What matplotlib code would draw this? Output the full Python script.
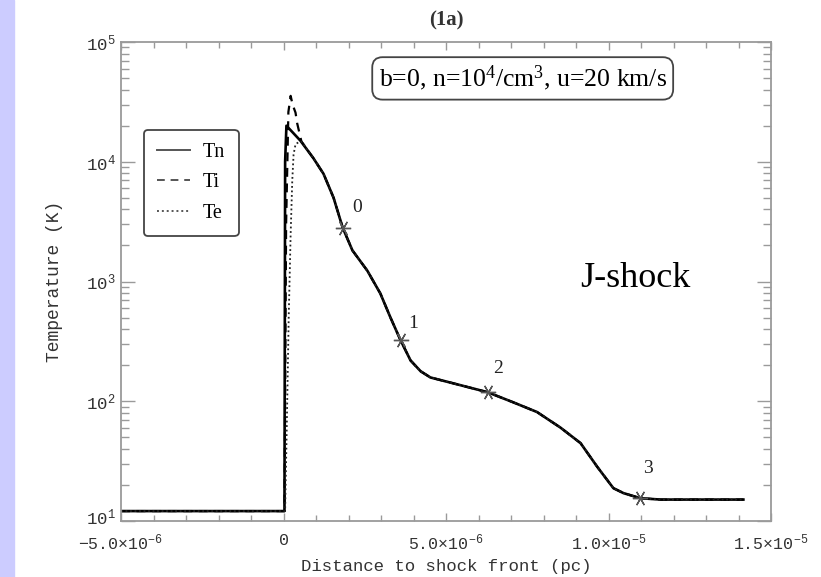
import matplotlib
matplotlib.use('Agg')
import matplotlib.pyplot as plt
from matplotlib.ticker import FixedLocator, MultipleLocator, LogLocator, NullFormatter
from matplotlib.patches import Rectangle
from matplotlib.transforms import ScaledTranslation

plt.rcParams['mathtext.default'] = 'regular'

# distances in units of 1e-6 pc, temperatures in K
tn_x = [-5.0, 0.03, 0.05, 0.09, 0.52, 0.92, 1.23, 1.54, 1.82, 2.12, 2.58, 2.98,
        3.29, 3.60, 3.91, 4.22, 4.52, 5.23, 6.28, 7.08, 7.80, 8.52, 9.14, 9.66,
        10.15, 10.46, 10.98, 11.6, 14.15]
tn_T = [12.1, 12.1, 10000, 20000, 15000, 10700, 7940, 5010, 2820, 1820, 1230, 794,
        501, 324, 219, 178, 158, 141, 119, 97.7, 81.3, 60.3, 44.7, 28.2,
        18.8, 17.1, 15.5, 15.1, 15.1]

# ions and electrons differ from Tn only just behind the front
ti_x = [-5.0, 0.03, 0.08, 0.15, 0.22, 0.28, 0.37, 0.42, 0.55]
ti_T = [12.1, 12.1, 3000, 26000, 35500, 30000, 25700, 21000, 14800]
te_x = [-5.0, 0.05, 0.10, 0.16, 0.22, 0.27, 0.31, 0.37, 0.47, 0.56]
te_T = [12.1, 12.1, 60, 500, 2500, 7000, 11500, 14000, 14600, 14700]
join = 5  # index in tn_x where Ti/Te coincide with Tn again

mark_x = [1.82, 3.60, 6.28, 10.98]
mark_T = [2820, 324, 119, 15.5]
mark_lab = ['0', '1', '2', '3']
mark_off = [(14, 20), (13, 17), (10, 24), (8, 30)]

xticks = [-5e-6, 0, 5e-6, 1e-5, 1.5e-5]
xticklabels = ['\u22125.0\u00d710$^{-6}$', '0', '5.0\u00d710$^{-6}$',
               '1.0\u00d710$^{-5}$', '1.5\u00d710$^{-5}$']
yticks = [1e1, 1e2, 1e3, 1e4, 1e5]
yticklabels = ['10$^{1}$', '10$^{2}$', '10$^{3}$', '10$^{4}$', '10$^{5}$']

mono = 'Liberation Mono'
serif = 'Liberation Serif'
axcol = '#9a9a9a'
txtcol = '#333333'

fig = plt.figure(figsize=(8.21, 5.77), dpi=100)
fig.add_artist(Rectangle((0, 0), 14 / 821, 1, transform=fig.transFigure,
                         color='#ccccff', zorder=0))
ax = fig.add_axes([121 / 821, 56 / 577, 650 / 821, 479 / 577])

sc = 1e-6
l_tn, = ax.plot([v * sc for v in tn_x], tn_T, color='black', lw=1.9, label='Tn')
l_ti, = ax.plot([v * sc for v in ti_x + tn_x[join:]], ti_T + tn_T[join:],
                color='black', lw=1.6, ls=(0, (4, 3)), label='Ti')
l_te, = ax.plot([v * sc for v in te_x + tn_x[join:]], te_T + tn_T[join:],
                color='#222222', lw=1.3, ls=(0, (1, 1.5)), label='Te')

ax.plot([v * sc for v in mark_x], mark_T, ls='none', marker=(6, 2, 30),
        ms=11, mew=1.0, color='#555555')
for x, T, s, off in zip(mark_x, mark_T, mark_lab, mark_off):
    ax.annotate(s, (x * sc, T), xytext=off, textcoords='offset pixels',
                ha='center', va='center', family=serif, fontsize=14, color='#222222')

ax.set_yscale('log')
ax.set_xlim(-5e-6, 1.5e-5)
ax.set_ylim(10, 1e5)

ax.xaxis.set_major_locator(FixedLocator(xticks))
ax.set_xticklabels(xticklabels, family=mono, fontsize=12, color=txtcol)
ax.xaxis.set_minor_locator(MultipleLocator(1e-6))
ax.yaxis.set_major_locator(FixedLocator(yticks))
ax.set_yticklabels(yticklabels, family=mono, fontsize=12.5, color=txtcol)
ax.yaxis.set_minor_locator(LogLocator(base=10, subs=range(2, 10)))
ax.yaxis.set_minor_formatter(NullFormatter())

ax.tick_params(which='both', direction='in', top=True, right=True, color=axcol)
ax.tick_params(axis='x', which='major', length=6, width=1.0, pad=8.5)
ax.tick_params(axis='x', which='minor', length=4, width=1.0)
ax.tick_params(axis='y', which='major', length=10, width=1.0, pad=4)
ax.tick_params(axis='y', which='minor', length=6, width=1.0)
for sp in ax.spines.values():
    sp.set_color(axcol)
    sp.set_linewidth(1.3)

# bottom y label sits a little above its tick, as in the original
lab0 = ax.get_yticklabels()[0]
lab0.set_transform(lab0.get_transform() + ScaledTranslation(0, 5 / 100, fig.dpi_scale_trans))

ax.set_xlabel('Distance to shock front (pc)', family=mono, fontsize=12.5, color=txtcol)
ax.xaxis.set_label_coords(0.5, -0.08)
ax.set_ylabel('Temperature (K)', family=mono, fontsize=13, color=txtcol)
ax.yaxis.set_label_coords(-0.089, 0.5)

ax.set_title('(1a)', family=serif, fontsize=15, fontweight='bold', color='#333333', pad=12)

leg = ax.legend(handles=[l_tn, l_ti, l_te], loc='upper left', bbox_to_anchor=(0.035, 0.816),
                borderaxespad=0, prop={'family': serif, 'size': 14.5},
                handlelength=1.65, handletextpad=0.65, labelspacing=0.55, borderpad=0.65,
                fancybox=True, edgecolor='#444444', framealpha=1)
leg.get_frame().set_linewidth(1.3)
for ln in leg.get_lines():
    ln.set_linewidth(1.4)
    ln.set_color('#555555')

ax.text(0.618, 0.924, 'b=0, n=10$^{4}$/cm$^{3}$, u=20 km/s', transform=ax.transAxes,
        ha='center', va='center', family=serif, fontsize=18.5,
        bbox=dict(boxstyle='round,pad=0.25,rounding_size=0.4', fc='white', ec='#444444', lw=1.3))

ax.text(0.791, 0.507, 'J-shock', transform=ax.transAxes, ha='center', va='center',
        family=serif, fontsize=26, color='black')

fig.savefig('out.png', dpi=100)
